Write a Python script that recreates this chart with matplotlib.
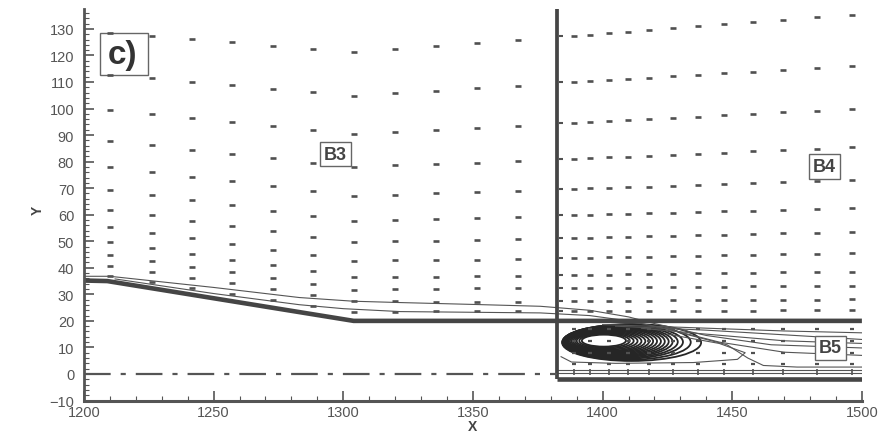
import numpy as np
import matplotlib.pyplot as plt
from matplotlib.patches import Ellipse, Rectangle

plt.rcParams['font.family'] = ['Liberation Sans', 'DejaVu Sans']

# ---- mesh nodes (vector positions) ----
# block B3: columns, and rows sampled at three stations (left, kink, right)
b3_cols = [1210.0, 1226.2, 1241.7, 1257.1, 1272.9, 1288.4, 1304.2, 1320.0, 1335.8, 1351.6, 1367.5]
b3_stations = [1210.0, 1304.2, 1367.5]
b3_rows_left = [128.5, 112.7, 99.5, 87.8, 78.0, 69.3, 61.8, 55.4, 49.7, 44.8, 40.7, 36.9]
b3_rows_kink = [121.3, 104.8, 90.4, 78.0, 67.1, 57.7, 49.7, 42.6, 36.5, 31.7, 27.5, 23.4]
b3_rows_right = [125.8, 108.5, 93.4, 80.2, 68.9, 59.1, 50.8, 43.3, 36.9, 32.4, 27.1, 23.7]

# block B4 (above the lip) and B5 (channel below it)
b4_cols = [1389.1, 1395.3, 1402.6, 1409.9, 1418.0, 1427.3, 1436.9, 1447.0, 1458.1, 1469.7, 1482.5, 1496.0]
b4_rows_left = [127.4, 110.0, 94.6, 81.0, 69.7, 59.9, 51.2, 43.7, 37.3, 32.4, 27.5, 23.7]
b4_rows_right = [135.3, 116.1, 99.9, 85.5, 73.1, 62.5, 53.5, 45.5, 38.6, 33.3, 28.1, 24.0]
b5_rows = [17.0, 12.5, 8.0, 3.8]
b5_bottom_row = 0.8
interface_x = 1384.1

# ---- walls ----
lip_x = [1200, 1209, 1304, 1500]
lip_y = [35.2, 35.0, 20.0, 20.0]
step_x = 1382.3
bottom_wall_y = -2.0

# ---- streamlines ----
stream_a_x = [1200, 1210, 1250, 1283, 1304, 1322, 1350, 1376, 1395, 1410, 1420, 1440, 1465, 1500]
stream_a_y = [36.8, 36.8, 32.6, 28.8, 27.4, 26.9, 26.2, 25.5, 24.0, 21.5, 19.0, 14.5, 11.0, 9.8]
stream_b_x = [1212, 1250, 1283, 1300, 1322, 1376, 1395, 1410, 1425, 1445, 1470, 1500]
stream_b_y = [35.8, 30.3, 26.1, 24.6, 23.5, 23.0, 22.0, 20.0, 17.0, 12.0, 8.2, 7.0]
stream_c_x = [1400, 1430, 1470, 1500]
stream_c_y = [18.6, 17.6, 16.2, 15.5]
stream_d_x = [1405, 1440, 1500]
stream_d_y = [18.0, 16.5, 13.0]
stream_e_x = [1415, 1440, 1470, 1500]
stream_e_y = [17.2, 15.0, 12.5, 11.5]
hook_x = [1430, 1448, 1456, 1462, 1475, 1500]
hook_y = [15.5, 11.0, 6.0, 3.2, 2.6, 2.6]
bubble_x = [1425, 1445, 1455, 1452, 1435, 1405, 1388, 1384]
bubble_y = [15.0, 11.5, 8.0, 5.5, 4.3, 4.0, 4.5, 6.5]
floor_x = [1383, 1500]
floor_y1 = [1.5, 1.5]
floor_y2 = [0.4, 0.4]

# recirculation loops: left, right, bottom, top edges
loop_left = [1392, 1391, 1390, 1389.3, 1388.6, 1388, 1387.4, 1386.9, 1386.4, 1386, 1385.6, 1385.3,
             1385, 1384.8, 1384.6, 1384.5, 1384.4]
loop_right = [1409, 1410.5, 1412, 1413.5, 1415, 1416.5, 1418, 1419.5, 1421, 1422.5, 1424, 1425.5,
              1427, 1429, 1431, 1434, 1438]
loop_bottom = [10.3, 9.9, 9.5, 9.1, 8.7, 8.4, 8.1, 7.8, 7.5, 7.2, 6.9, 6.6, 6.3, 6.0, 5.7, 5.3, 4.9]
loop_top = [14.8, 15.1, 15.4, 15.7, 16.0, 16.3, 16.6, 16.9, 17.2, 17.4, 17.6, 17.8, 18.0, 18.2,
            18.4, 18.6, 18.8]

fig = plt.figure(figsize=(8.81, 4.35), dpi=100)
ax = fig.add_axes([0.0953, 0.077, 0.883, 0.900])

vec_color = '#505050'
line_color = '#454545'

# vectors of block B3
b3_grid = []
for j in range(len(b3_rows_left)):
    ys = np.interp(b3_cols, b3_stations, [b3_rows_left[j], b3_rows_kink[j], b3_rows_right[j]])
    b3_grid.append(ys)
b3_grid = np.array(b3_grid)
xx3 = np.tile(b3_cols, (len(b3_rows_left), 1))
ax.plot(xx3.ravel(), b3_grid.ravel(), ls='none', marker='_', ms=5, mew=1.9, color=vec_color)

# vectors of block B4
b4_grid = []
for j in range(len(b4_rows_left)):
    ys = np.interp(b4_cols, [b4_cols[0], b4_cols[-1]], [b4_rows_left[j], b4_rows_right[j]])
    b4_grid.append(ys)
b4_grid = np.array(b4_grid)
xx4 = np.tile(b4_cols, (len(b4_rows_left), 1))
ax.plot(xx4.ravel(), b4_grid.ravel(), ls='none', marker='_', ms=5, mew=1.9, color=vec_color)
ax.plot([interface_x] * len(b4_rows_left), b4_rows_left, ls='none', marker='_', ms=2.5,
        mew=1.5, color=vec_color)

# vectors of block B5
for yv in b5_rows:
    ax.plot(b4_cols, [yv] * len(b4_cols), ls='none', marker='_', ms=3.5, mew=1.6, color=vec_color)
ax.plot(b4_cols, [b5_bottom_row] * len(b4_cols), ls='none', marker='|', ms=5, mew=1.2, color=vec_color)

# streamlines
for sx, sy in [(stream_a_x, stream_a_y), (stream_b_x, stream_b_y), (stream_c_x, stream_c_y),
               (stream_d_x, stream_d_y), (stream_e_x, stream_e_y), (hook_x, hook_y),
               (bubble_x, bubble_y), (floor_x, floor_y1), (floor_x, floor_y2)]:
    ax.plot(sx, sy, color='#555555', lw=0.8)

for l, r, b, t in zip(loop_left, loop_right, loop_bottom, loop_top):
    ax.add_patch(Ellipse(((l + r) / 2, (b + t) / 2), r - l, t - b, angle=0,
                         fill=False, ec='#262626', lw=1.3))

# walls and symmetry axis
ax.plot(lip_x, lip_y, color=line_color, lw=3.3, solid_capstyle='butt')
ax.plot([step_x, step_x], [bottom_wall_y, 137.5], color=line_color, lw=2.7, solid_capstyle='butt')
ax.plot([step_x, 1500], [bottom_wall_y, bottom_wall_y], color=line_color, lw=3.3, solid_capstyle='butt')
ax.plot([1200, step_x], [0, 0], color='#555555', lw=1.6, ls=(0, (12, 4.5, 2.3, 4.5)))

# block labels
box = dict(boxstyle='square,pad=0.2', fc='white', ec='#666666', lw=1.0)
ax.text(1297, 82.8, 'B3', fontsize=13, fontweight='bold', color='#444444', ha='center', va='center', bbox=box)
ax.text(1485.6, 78.2, 'B4', fontsize=13, fontweight='bold', color='#444444', ha='center', va='center', bbox=box)
ax.text(1487.9, 9.9, 'B5', fontsize=13, fontweight='bold', color='#444444', ha='center', va='center', bbox=box)
ax.add_patch(Rectangle((1206.2, 112.7), 18.5, 15.8, fill=False, ec='#666666', lw=1.0))
ax.text(1215.0, 120.4, 'c)', fontsize=24, fontweight='bold', color='#333333', ha='center', va='center')

ax.set_xlim(1200, 1500)
ax.set_ylim(-10, 137.5)
ax.set_xticks(np.arange(1200, 1501, 50))
ax.set_yticks(np.arange(-10, 131, 10))
ax.set_xticks(np.arange(1200, 1501, 10), minor=True)
ax.set_yticks(np.arange(-10, 137, 2), minor=True)
ax.tick_params(which='both', direction='in', colors='#555555', labelcolor='#555555', labelsize=10.5)
ax.tick_params(which='major', length=7, width=1.2)
ax.tick_params(which='minor', length=3.5, width=0.8)
ax.tick_params(axis='x', pad=3)
ax.tick_params(axis='y', pad=7)
for side in ['top', 'right']:
    ax.spines[side].set_visible(False)
ax.spines['left'].set_linewidth(2.0)
ax.spines['bottom'].set_linewidth(2.2)
ax.spines['left'].set_color('#555555')
ax.spines['bottom'].set_color('#555555')

ax.set_xlabel('X', fontsize=10, fontweight='bold', color='#444444', labelpad=0)
ax.set_ylabel('Y', fontsize=10, fontweight='bold', color='#444444')
ax.yaxis.set_label_coords(-0.050, 0.489)

fig.savefig('out.png', dpi=100)
